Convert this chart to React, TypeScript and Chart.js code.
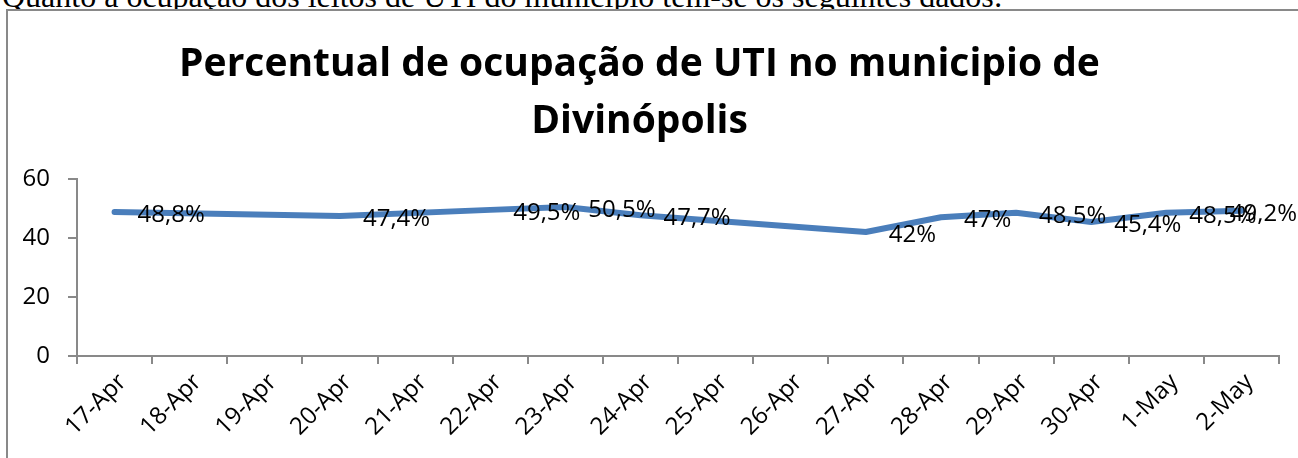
import React, { useEffect, useRef } from "react";
import { Chart, registerables } from "chart.js";

Chart.register(...registerables);

const introText =
  "Quanto à ocupação dos leitos de UTI do município tem-se os seguintes dados:";
const titleLines = ["Percentual de ocupação de UTI no municipio de", "Divinópolis"];
const categories = [
  "17-Apr", "18-Apr", "19-Apr", "20-Apr", "21-Apr", "22-Apr", "23-Apr", "24-Apr",
  "25-Apr", "26-Apr", "27-Apr", "28-Apr", "29-Apr", "30-Apr", "1-May", "2-May",
];
const occupancy: (number | null)[] = [
  48.8, null, null, 47.4, null, 49.5, 50.5, 47.7,
  null, null, 42, 47, 48.5, 45.4, 48.5, 49.2,
];
const yMin = 0;
const yMax = 60;
const yStep = 20;

const FONT = "'Open Sans', 'Noto Sans', sans-serif";
const AXIS_GRAY = "#898989";
const LINE_BLUE = "#4A7EBB";

const fmt = (v: number) => String(v).replace(".", ",") + "%";

const labelPlugin = {
  id: "pctLabels",
  afterDatasetsDraw(chart: any) {
    const ctx = chart.ctx;
    const meta = chart.getDatasetMeta(0);
    ctx.save();
    ctx.font = `24px ${FONT}`;
    ctx.fillStyle = "#000";
    ctx.textBaseline = "middle";
    ctx.textAlign = "left";
    meta.data.forEach((pt: any, i: number) => {
      const v = occupancy[i];
      if (v == null) return;
      const text = fmt(v);
      const w = ctx.measureText(text).width;
      let x = pt.x + 23;
      if (x + w > chart.width - 1) x = chart.width - 1 - w;
      ctx.fillText(text, x, pt.y + 3);
    });
    ctx.restore();
  },
};

export default function App() {
  const canvasRef = useRef<HTMLCanvasElement | null>(null);

  useEffect(() => {
    document.body.style.margin = "0";
    const canvas = canvasRef.current;
    if (!canvas) return;
    const tickFont = { family: FONT, size: 24 };
    const chart = new Chart(canvas, {
      type: "line",
      data: {
        labels: categories,
        datasets: [
          {
            data: occupancy,
            borderColor: LINE_BLUE,
            borderWidth: 6,
            pointRadius: 0,
            tension: 0,
            spanGaps: true,
            borderCapStyle: "round",
            borderJoinStyle: "round",
            fill: false,
          },
        ],
      },
      options: {
        responsive: false,
        animation: false,
        devicePixelRatio: 1,
        layout: { padding: { left: 0, right: 19, top: 0, bottom: 0 } },
        plugins: {
          legend: { display: false },
          tooltip: { enabled: false },
          title: {
            display: true,
            text: titleLines,
            color: "#000",
            font: { family: FONT, size: 39, weight: "bold", lineHeight: 1.46 },
            padding: { top: 36, bottom: 29 },
          },
        },
        scales: {
          x: {
            type: "category",
            offset: true,
            grid: {
              offset: true,
              drawOnChartArea: false,
              drawTicks: true,
              tickLength: 8,
              color: AXIS_GRAY,
              lineWidth: 2,
            },
            border: { color: AXIS_GRAY, width: 2 },
            ticks: {
              minRotation: 45,
              maxRotation: 45,
              autoSkip: false,
              color: "#000",
              font: tickFont,
              padding: 4,
              labelOffset: 8,
            },
            afterFit: (s: any) => {
              s.height = 102;
            },
          },
          y: {
            min: yMin,
            max: yMax,
            ticks: { stepSize: yStep, color: "#000", font: tickFont, padding: 18 },
            grid: {
              drawOnChartArea: false,
              drawTicks: true,
              tickLength: 9,
              color: AXIS_GRAY,
              lineWidth: 2,
            },
            border: { color: AXIS_GRAY, width: 2 },
            afterFit: (s: any) => {
              s.width = 77;
            },
          },
        },
      },
      plugins: [labelPlugin],
    } as any);
    return () => chart.destroy();
  }, []);

  return (
    <div
      style={{
        position: "fixed",
        left: 0,
        top: 0,
        width: 1298,
        height: 458,
        overflow: "hidden",
        background: "#fff",
      }}
    >
      <div
        style={{
          position: "absolute",
          left: 2,
          top: -20,
          whiteSpace: "nowrap",
          fontFamily: "'Liberation Serif', 'Times New Roman', serif",
          fontSize: 32,
          lineHeight: "32px",
          color: "#000",
        }}
      >
        {introText}
      </div>
      <div
        style={{
          position: "absolute",
          left: 6,
          top: 9,
          width: 1320,
          height: 480,
          border: `2px solid ${AXIS_GRAY}`,
          background: "#fff",
        }}
      />
      <canvas
        ref={canvasRef}
        width={1298}
        height={458}
        style={{ position: "absolute", left: 0, top: 0, width: 1298, height: 458 }}
      />
    </div>
  );
}
